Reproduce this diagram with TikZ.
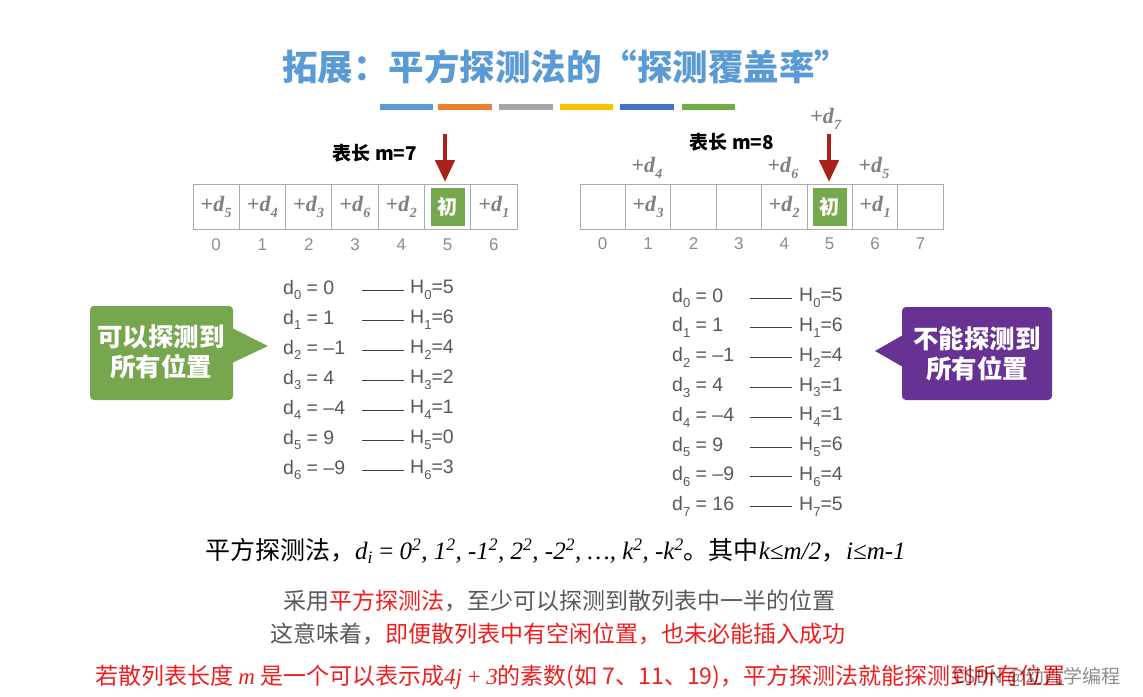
\documentclass[tikz,border=0pt]{standalone}
\usepackage{fontspec}
\setmainfont{Liberation Serif}
\newfontfamily\cjk{Noto Sans CJK SC}
\newfontfamily\hel{Liberation Sans}
\newfontfamily\tms{Liberation Serif}
\usetikzlibrary{arrows.meta}
\definecolor{titleblue}{RGB}{91,155,213}
\definecolor{barA}{RGB}{91,155,213}
\definecolor{barB}{RGB}{237,125,49}
\definecolor{barC}{RGB}{165,165,165}
\definecolor{barD}{RGB}{255,192,0}
\definecolor{barE}{RGB}{68,114,196}
\definecolor{barF}{RGB}{112,173,71}
\definecolor{initgreen}{RGB}{118,168,78}
\definecolor{callgreen}{RGB}{118,166,78}
\definecolor{callpurple}{RGB}{104,50,148}
\definecolor{arrowred}{RGB}{170,32,26}
\definecolor{celltext}{RGB}{128,128,128}
\definecolor{idxgray}{RGB}{140,140,140}
\definecolor{eqgray}{RGB}{89,89,89}
\definecolor{txtgray}{RGB}{89,89,89}
\definecolor{txtred}{RGB}{240,30,30}
\definecolor{gridgray}{RGB}{170,170,170}
\newcommand{\cellD}[1]{{\tms\bfseries +\textit{d}\raisebox{-0.25em}{\fontsize{14}{14}\selectfont\textit{#1}}}}
\newcommand{\eqD}[2]{d\raisebox{-0.3em}{\fontsize{13}{13}\selectfont #1} = #2}
\newcommand{\eqH}[2]{H\raisebox{-0.3em}{\fontsize{13}{13}\selectfont #1}=#2}
\tikzset{
  cellbox/.style={draw=gridgray, line width=1pt, minimum height=45pt, inner sep=0pt, anchor=center,
    font=\fontsize{22}{22}\selectfont, text=celltext},
  initbox/.style={fill=initgreen, minimum width=34pt, minimum height=38pt, inner sep=0pt,
    text=white, font=\cjk\bfseries\fontsize{20}{20}\selectfont},
  idxlabel/.style={font=\hel\fontsize{17}{17}\selectfont, text=idxgray},
  abovelabel/.style={font=\fontsize{22}{22}\selectfont, text=celltext},
  lenlabel/.style={font=\cjk\bfseries\fontsize{19}{19}\selectfont, text=black},
  redarrow/.style={draw=arrowred, line width=4.5pt, -{Triangle[width=19pt,length=22pt]}},
  eqtext/.style={font=\hel\fontsize{19.5}{19.5}\selectfont, text=eqgray, anchor=west, inner sep=0pt},
  eqline/.style={draw=black!75, line width=1pt},
  calltext/.style={font=\cjk\bfseries\fontsize{25.5}{25.5}\selectfont, text=white, align=center},
  bodytext/.style={font=\cjk\fontsize{23}{23}\selectfont, text=txtgray, inner sep=0pt},
}
\begin{document}
\begin{tikzpicture}[x=1pt,y=-1pt]
\useasboundingbox (0,0) rectangle (1143,696);
\fill[white] (0,0) rectangle (1143,696);

% title
\node[font=\cjk\bfseries\fontsize{35.5}{35.5}\selectfont, text=titleblue] (title) at (566,67) {拓展：平方探测法的“探测覆盖率”};
\fill[barA] (380,104) rectangle (433,110);
\fill[barB] (438,104) rectangle (492,110);
\fill[barC] (499,104) rectangle (553,110);
\fill[barD] (560,104) rectangle (613,110);
\fill[barE] (620,104) rectangle (674,110);
\fill[barF] (682,104) rectangle (735,110);

% left table m=7
\foreach \i in {0,...,6} {
  \node[cellbox, minimum width=46.3pt] (L\i) at (193+46.3*\i+23.15,207) {};
  \node[idxlabel] (Li\i) at (193+46.3*\i+23.15,245) {\i};
}
\node[font=\fontsize{22}{22}\selectfont, text=celltext] (Lt0) at (L0) {\cellD{5}};
\node[font=\fontsize{22}{22}\selectfont, text=celltext] (Lt1) at (L1) {\cellD{4}};
\node[font=\fontsize{22}{22}\selectfont, text=celltext] (Lt2) at (L2) {\cellD{3}};
\node[font=\fontsize{22}{22}\selectfont, text=celltext] (Lt3) at (L3) {\cellD{6}};
\node[font=\fontsize{22}{22}\selectfont, text=celltext] (Lt4) at (L4) {\cellD{2}};
\node[initbox] (Linit) at (L5) {初};
\node[font=\fontsize{22}{22}\selectfont, text=celltext] (Lt6) at (L6) {\cellD{1}};
\node[lenlabel] (Llen) at (375,153) {表长 m=7};
\coordinate (LAs) at (445,134);
\coordinate (LAe) at (445,182);
\draw[redarrow] (LAs) -- (LAe);

% right table m=8
\foreach \i in {0,...,7} {
  \node[cellbox, minimum width=45.4pt] (R\i) at (580+45.4*\i+22.7,207) {};
  \node[idxlabel] (Ri\i) at (580+45.4*\i+22.7,244) {\i};
}
\node[font=\fontsize{22}{22}\selectfont, text=celltext] (Rt1) at (R1) {\cellD{3}};
\node[font=\fontsize{22}{22}\selectfont, text=celltext] (Rt4) at (R4) {\cellD{2}};
\node[initbox] (Rinit) at (R5) {初};
\node[font=\fontsize{22}{22}\selectfont, text=celltext] (Rt6) at (R6) {\cellD{1}};
\node[abovelabel] (Ra4) at (647,168) {\cellD{4}};
\node[abovelabel] (Ra6) at (783,168) {\cellD{6}};
\node[abovelabel] (Ra5) at (874,168) {\cellD{5}};
\node[abovelabel] (Ra7) at (826,119) {\cellD{7}};
\node[lenlabel] (Rlen) at (732,142) {表长 m=8};
\coordinate (RAs) at (829,134);
\coordinate (RAe) at (829,182);
\draw[redarrow] (RAs) -- (RAe);

% left equations
\foreach \i/\d/\h [count=\k from 0] in {0/0/5,1/1/6,2/–1/4,3/4/2,4/–4/1,5/9/0,6/–9/3} {
  \node[eqtext] (Ld\i) at (283,290+30*\k) {\eqD{\i}{\d}};
  \coordinate (Lls\i) at (362,290+30*\k);
  \coordinate (Lle\i) at (404,290+30*\k);
  \draw[eqline] (Lls\i) -- (Lle\i);
  \node[eqtext] (Lh\i) at (410,290+30*\k) {\eqH{\i}{\h}};
}

% right equations
\foreach \i/\d/\h [count=\k from 0] in {0/0/5,1/1/6,2/–1/4,3/4/1,4/–4/1,5/9/6,6/–9/4,7/16/5} {
  \node[eqtext] (Rd\i) at (672,298+29.8*\k) {\eqD{\i}{\d}};
  \coordinate (Rls\i) at (750,298+29.8*\k);
  \coordinate (Rle\i) at (792,298+29.8*\k);
  \draw[eqline] (Rls\i) -- (Rle\i);
  \node[eqtext] (Rh\i) at (799,298+29.8*\k) {\eqH{\i}{\h}};
}

% green callout
\fill[callgreen, rounded corners=4pt] (90,306) rectangle (233,400);
\fill[callgreen] (232,328) -- (268,346) -- (232,363) -- cycle;
\node[calltext] (gcall) at (161,352) {可以探测到\\[4pt]所有位置};

% purple callout
\fill[callpurple, rounded corners=4pt] (902,307) rectangle (1052,400);
\fill[callpurple] (903,335) -- (875,351) -- (903,367) -- cycle;
\node[calltext] (pcall) at (977,354) {不能探测到\\[4pt]所有位置};

% formula line
\node[anchor=west, inner sep=0pt, font=\fontsize{25}{25}\selectfont, text=black] (formula) at (205,551)
  {{\cjk 平方探测法，}{\tms\itshape d\textsubscript{i}\/ {\upshape =} 0\textsuperscript{2}, 1\textsuperscript{2}, -1\textsuperscript{2}, 2\textsuperscript{2}, -2\textsuperscript{2}, …, k\textsuperscript{2}, -k\textsuperscript{2}}{\cjk 。其中}{\tms\itshape k≤m/2}{\cjk ，}{\tms\itshape i≤m-1}};

% explanation lines
\node[bodytext] (line1) at (559,601) {采用\textcolor{txtred}{平方探测法}，至少可以探测到散列表中一半的位置};
\node[bodytext] (line2) at (558,634) {这意味着，\textcolor{txtred}{即便散列表中有空闲位置，也未必能插入成功}};
\node[bodytext, anchor=west, text=txtred] (line3) at (95,677) {若散列表长度 {\tms\itshape m} 是一个可以表示成{\tms\itshape 4j {\upshape +} 3}的素数(如 7、11、19)，平方探测法就能探测到所有位置};

% watermark
\node[anchor=west, inner sep=0pt, font=\cjk\fontsize{19}{19}\selectfont, text=black, opacity=0.45] (wm) at (953,677) {CSDN @幼儿学编程};
\end{tikzpicture}
\end{document}
